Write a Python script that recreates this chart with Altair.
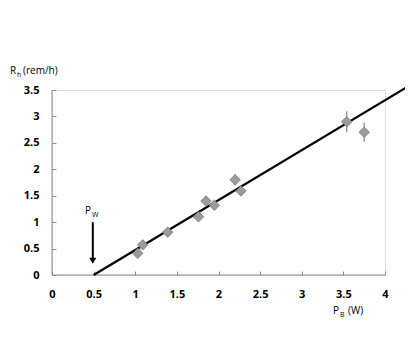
import altair as alt
import pandas as pd

# measured data
pb = [1.03, 1.09, 1.39, 1.76, 1.85, 1.95, 2.20, 2.27, 3.54, 3.75]
rh = [0.41, 0.57, 0.81, 1.10, 1.40, 1.32, 1.80, 1.59, 2.90, 2.70]
err = [0.03, 0.03, 0.03, 0.03, 0.03, 0.03, 0.10, 0.05, 0.20, 0.18]

# fitted line endpoints
fit_x = [0.5, 4.3]
fit_y = [0.0, 3.59]

x_ticks = [0, 0.5, 1, 1.5, 2, 2.5, 3, 3.5, 4]
y_ticks = [0, 0.5, 1, 1.5, 2, 2.5, 3, 3.5]

df = pd.DataFrame({"pb": pb, "rh": rh, "lo": [r - e for r, e in zip(rh, err)],
                   "hi": [r + e for r, e in zip(rh, err)]})
fit = pd.DataFrame({"x": fit_x, "y": fit_y})

FONT = "Open Sans"
AX = "#8a8a8a"

xs = alt.Scale(domain=[0, 4], nice=False, zero=False)
ys = alt.Scale(domain=[0, 3.5], nice=False, zero=False)

xaxis = alt.Axis(values=x_ticks, domain=False, grid=False, offset=-4, tickSize=4,
                 tickColor=AX, labelPadding=13, labelFont=FONT, labelFontWeight="bold",
                 labelFontSize=11, labelColor="black", title=None, labelFlush=False,
                 labelOverlap=False, format="~g")
yaxis = alt.Axis(values=y_ticks, domain=False, grid=False, offset=-4, tickSize=4,
                 tickColor=AX, labelPadding=13, labelFont=FONT, labelFontWeight="bold",
                 labelFontSize=11, labelColor="black", title=None, labelFlush=False,
                 labelOverlap=False, format="~g")


def X(f):
    return alt.X(f, type="quantitative", scale=xs, axis=xaxis)


def Y(f):
    return alt.Y(f, type="quantitative", scale=ys, axis=yaxis)


base = alt.Chart(df)

# axis lines
xdom = alt.Chart(pd.DataFrame({"a": [0], "b": [4], "y": [0]})).mark_rule(color=AX, strokeWidth=1).encode(
    x=X("a"), x2="b:Q", y=Y("y"))
ydom = alt.Chart(pd.DataFrame({"x": [0], "a": [0], "b": [3.5]})).mark_rule(color=AX, strokeWidth=1).encode(
    x=X("x"), y=Y("a"), y2="b:Q")

errbars = base.mark_rule(color="#8c8c8c", strokeWidth=1.3).encode(
    x=X("pb"), y=Y("lo"), y2="hi:Q")

pts = base.mark_point(shape="diamond", filled=True, size=110, color="#9b9b9b",
                      stroke="#7a7a7a", strokeWidth=0.8, opacity=1).encode(
    x=X("pb"), y=Y("rh"))

line = alt.Chart(fit).mark_line(color="black", strokeWidth=2.2).encode(
    x=X("x"), y=Y("y"))

# arrow for P_W
arrow_df = pd.DataFrame({"x": [0.49], "top": [1.0], "bot": [0.3], "head": [0.27]})
arrow = alt.Chart(arrow_df).mark_rule(color="black", strokeWidth=2).encode(
    x=X("x"), y=Y("top"), y2="bot:Q")
head = alt.Chart(arrow_df).mark_point(shape="triangle-down", filled=True, color="black",
                                      size=50, opacity=1).encode(
    x=X("x"), y=Y("head"))


def txt(t, x, y, size=10, align="left"):
    return alt.Chart(pd.DataFrame({"t": [t]})).mark_text(
        font=FONT, fontSize=size, align=align, baseline="alphabetic", color="black").encode(
        text="t:N", x=alt.value(x), y=alt.value(y))


labels = [
    txt("R", -42, -16), txt("h", -35, -13, 7), txt("(rem/h)", -29, -16),
    txt("P", 281, 224), txt("B", 288, 227, 7), txt("(W)", 296, 224),
    txt("P", 33, 124), txt("W", 40, 127, 7),
]

chart = alt.layer(xdom, ydom, errbars, line, pts, arrow, head, *labels).properties(
    width=333, height=185,
    autosize=alt.AutoSizeParams(type="none"),
    padding={"left": 44, "top": 82, "right": 20, "bottom": 56},
).configure_view(stroke=None).configure(background="white")

chart.save("out.html", embed_options={"renderer": "svg", "actions": False})
